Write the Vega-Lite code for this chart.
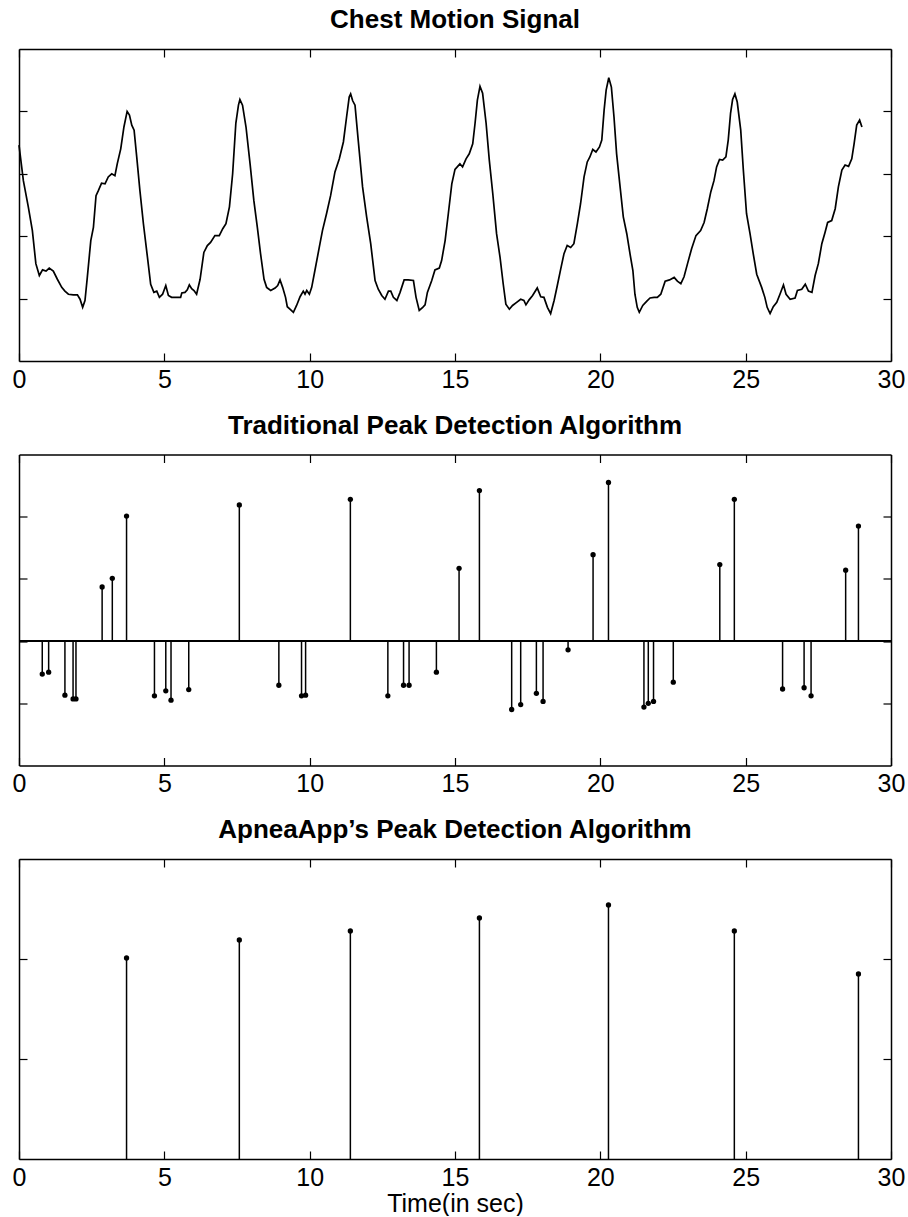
{
  "$schema": "https://vega.github.io/schema/vega-lite/v6.json",
  "padding": {"left": 12, "top": 7, "right": 0, "bottom": 0},
  "background": "white",
  "config": {
    "font": "Liberation Sans",
    "view": {"stroke": null},
    "axis": {"grid": false, "domain": true, "domainColor": "black", "domainWidth": 1.5, "tickColor": "black", "tickWidth": 1.2, "tickSize": -8, "labelFont": "Liberation Sans", "labelFontSize": 25, "labelColor": "black", "labelPadding": 14, "labelFlush": false, "titleFont": "Liberation Sans", "titleFontSize": 25, "titleFontWeight": "normal", "titleColor": "black"},
    "title": {"font": "Liberation Sans", "fontSize": 26, "fontWeight": "bold", "color": "black", "anchor": "middle", "offset": 15, "baseline": "alphabetic"}
  },
  "datasets": {
    "signal": [
      {"t":0,"v":1.46},{"t":0.15,"v":0.89},{"t":0.32,"v":0.47},{"t":0.46,"v":0.09},{"t":0.58,"v":-0.44},{"t":0.70,"v":-0.63},{"t":0.81,"v":-0.54},{"t":0.93,"v":-0.56},{"t":1.04,"v":-0.51},{"t":1.18,"v":-0.56},{"t":1.32,"v":-0.69},{"t":1.47,"v":-0.82},{"t":1.58,"v":-0.88},{"t":1.70,"v":-0.93},{"t":1.87,"v":-0.94},{"t":2.01,"v":-0.94},{"t":2.10,"v":-1.01},{"t":2.19,"v":-1.14},{"t":2.27,"v":-1.03},{"t":2.35,"v":-0.66},{"t":2.47,"v":-0.07},{"t":2.56,"v":0.14},{"t":2.65,"v":0.65},{"t":2.73,"v":0.73},{"t":2.84,"v":0.85},{"t":2.96,"v":0.84},{"t":3.07,"v":0.95},{"t":3.19,"v":1.00},{"t":3.30,"v":0.97},{"t":3.38,"v":1.16},{"t":3.50,"v":1.40},{"t":3.61,"v":1.75},{"t":3.72,"v":2.00},{"t":3.80,"v":1.94},{"t":3.88,"v":1.78},{"t":3.96,"v":1.70},{"t":4.05,"v":1.27},{"t":4.16,"v":0.73},{"t":4.28,"v":0.20},{"t":4.42,"v":-0.34},{"t":4.53,"v":-0.77},{"t":4.64,"v":-0.90},{"t":4.74,"v":-0.88},{"t":4.83,"v":-0.98},{"t":4.94,"v":-0.93},{"t":5.05,"v":-0.79},{"t":5.14,"v":-0.95},{"t":5.25,"v":-0.98},{"t":5.42,"v":-0.98},{"t":5.56,"v":-0.98},{"t":5.60,"v":-0.91},{"t":5.71,"v":-0.90},{"t":5.79,"v":-0.86},{"t":5.86,"v":-0.78},{"t":5.94,"v":-0.84},{"t":6.02,"v":-0.87},{"t":6.11,"v":-0.93},{"t":6.23,"v":-0.69},{"t":6.36,"v":-0.26},{"t":6.48,"v":-0.15},{"t":6.59,"v":-0.10},{"t":6.74,"v":0.01},{"t":6.89,"v":0.01},{"t":7.01,"v":0.12},{"t":7.12,"v":0.20},{"t":7.24,"v":0.47},{"t":7.35,"v":1.00},{"t":7.46,"v":1.81},{"t":7.55,"v":2.10},{"t":7.60,"v":2.19},{"t":7.69,"v":2.10},{"t":7.81,"v":1.75},{"t":7.95,"v":1.16},{"t":8.08,"v":0.57},{"t":8.20,"v":0.14},{"t":8.31,"v":-0.28},{"t":8.43,"v":-0.69},{"t":8.52,"v":-0.82},{"t":8.66,"v":-0.87},{"t":8.81,"v":-0.83},{"t":8.90,"v":-0.79},{"t":8.98,"v":-0.70},{"t":9.07,"v":-0.82},{"t":9.17,"v":-0.98},{"t":9.23,"v":-1.13},{"t":9.35,"v":-1.18},{"t":9.44,"v":-1.22},{"t":9.55,"v":-1.11},{"t":9.67,"v":-0.97},{"t":9.78,"v":-0.88},{"t":9.84,"v":-0.93},{"t":9.90,"v":-0.87},{"t":9.99,"v":-0.93},{"t":10.07,"v":-0.82},{"t":10.18,"v":-0.55},{"t":10.33,"v":-0.18},{"t":10.44,"v":0.09},{"t":10.58,"v":0.36},{"t":10.72,"v":0.65},{"t":10.87,"v":1.03},{"t":11.02,"v":1.24},{"t":11.16,"v":1.51},{"t":11.27,"v":1.91},{"t":11.36,"v":2.23},{"t":11.41,"v":2.28},{"t":11.48,"v":2.17},{"t":11.56,"v":2.10},{"t":11.67,"v":1.54},{"t":11.82,"v":0.79},{"t":11.96,"v":0.31},{"t":12.10,"v":-0.12},{"t":12.25,"v":-0.71},{"t":12.36,"v":-0.85},{"t":12.48,"v":-0.95},{"t":12.59,"v":-1.01},{"t":12.71,"v":-0.88},{"t":12.79,"v":-0.88},{"t":12.88,"v":-0.98},{"t":13.00,"v":-1.03},{"t":13.11,"v":-0.90},{"t":13.25,"v":-0.70},{"t":13.39,"v":-0.70},{"t":13.57,"v":-0.71},{"t":13.66,"v":-0.98},{"t":13.77,"v":-1.19},{"t":13.89,"v":-1.14},{"t":13.97,"v":-1.10},{"t":14.05,"v":-0.90},{"t":14.20,"v":-0.71},{"t":14.31,"v":-0.54},{"t":14.46,"v":-0.51},{"t":14.54,"v":-0.39},{"t":14.66,"v":-0.07},{"t":14.77,"v":0.36},{"t":14.89,"v":0.84},{"t":15.00,"v":1.07},{"t":15.17,"v":1.16},{"t":15.26,"v":1.11},{"t":15.38,"v":1.24},{"t":15.49,"v":1.32},{"t":15.61,"v":1.48},{"t":15.69,"v":1.81},{"t":15.77,"v":2.18},{"t":15.86,"v":2.40},{"t":15.95,"v":2.29},{"t":16.07,"v":1.81},{"t":16.18,"v":1.22},{"t":16.30,"v":0.68},{"t":16.43,"v":0.04},{"t":16.55,"v":-0.34},{"t":16.66,"v":-0.77},{"t":16.75,"v":-1.09},{"t":16.87,"v":-1.17},{"t":16.98,"v":-1.11},{"t":17.12,"v":-1.06},{"t":17.26,"v":-1.01},{"t":17.37,"v":-1.03},{"t":17.44,"v":-1.10},{"t":17.55,"v":-1.02},{"t":17.67,"v":-0.95},{"t":17.83,"v":-0.83},{"t":17.95,"v":-0.97},{"t":18.06,"v":-0.98},{"t":18.18,"v":-1.14},{"t":18.29,"v":-1.24},{"t":18.41,"v":-1.03},{"t":18.52,"v":-0.79},{"t":18.64,"v":-0.52},{"t":18.75,"v":-0.28},{"t":18.86,"v":-0.15},{"t":18.98,"v":-0.18},{"t":19.09,"v":-0.12},{"t":19.21,"v":0.20},{"t":19.32,"v":0.52},{"t":19.44,"v":0.95},{"t":19.55,"v":1.19},{"t":19.64,"v":1.27},{"t":19.74,"v":1.39},{"t":19.85,"v":1.35},{"t":19.97,"v":1.43},{"t":20.05,"v":1.54},{"t":20.13,"v":2.02},{"t":20.20,"v":2.34},{"t":20.29,"v":2.54},{"t":20.38,"v":2.39},{"t":20.47,"v":1.91},{"t":20.56,"v":1.32},{"t":20.68,"v":0.79},{"t":20.79,"v":0.31},{"t":20.91,"v":0.04},{"t":21.02,"v":-0.28},{"t":21.12,"v":-0.55},{"t":21.19,"v":-0.93},{"t":21.27,"v":-1.14},{"t":21.34,"v":-1.22},{"t":21.46,"v":-1.11},{"t":21.60,"v":-1.04},{"t":21.71,"v":-0.99},{"t":21.85,"v":-0.98},{"t":21.96,"v":-0.98},{"t":22.08,"v":-0.93},{"t":22.23,"v":-0.72},{"t":22.38,"v":-0.70},{"t":22.54,"v":-0.66},{"t":22.65,"v":-0.72},{"t":22.77,"v":-0.76},{"t":22.88,"v":-0.65},{"t":23.00,"v":-0.44},{"t":23.14,"v":-0.20},{"t":23.29,"v":0.01},{"t":23.45,"v":0.09},{"t":23.57,"v":0.22},{"t":23.68,"v":0.44},{"t":23.80,"v":0.71},{"t":23.91,"v":0.89},{"t":24.00,"v":1.11},{"t":24.10,"v":1.23},{"t":24.21,"v":1.22},{"t":24.32,"v":1.27},{"t":24.40,"v":1.54},{"t":24.48,"v":1.97},{"t":24.55,"v":2.19},{"t":24.63,"v":2.28},{"t":24.71,"v":2.15},{"t":24.83,"v":1.70},{"t":24.92,"v":1.06},{"t":25.03,"v":0.36},{"t":25.15,"v":0.04},{"t":25.26,"v":-0.28},{"t":25.38,"v":-0.61},{"t":25.55,"v":-0.82},{"t":25.66,"v":-0.98},{"t":25.74,"v":-1.14},{"t":25.84,"v":-1.24},{"t":25.95,"v":-1.13},{"t":26.07,"v":-1.06},{"t":26.18,"v":-0.93},{"t":26.30,"v":-0.78},{"t":26.39,"v":-0.93},{"t":26.53,"v":-1.01},{"t":26.70,"v":-0.99},{"t":26.78,"v":-0.87},{"t":26.93,"v":-0.85},{"t":27.05,"v":-0.77},{"t":27.16,"v":-0.88},{"t":27.28,"v":-0.90},{"t":27.39,"v":-0.63},{"t":27.50,"v":-0.44},{"t":27.62,"v":-0.12},{"t":27.73,"v":0.06},{"t":27.82,"v":0.22},{"t":27.96,"v":0.25},{"t":28.08,"v":0.44},{"t":28.19,"v":0.79},{"t":28.31,"v":1.06},{"t":28.42,"v":1.14},{"t":28.54,"v":1.12},{"t":28.65,"v":1.24},{"t":28.73,"v":1.48},{"t":28.82,"v":1.78},{"t":28.92,"v":1.86},{"t":29.00,"v":1.75}
    ],
    "trad": [
      {"t":0.80,"v":-0.53},{"t":1.02,"v":-0.50},{"t":1.58,"v":-0.87},{"t":1.86,"v":-0.93},{"t":1.96,"v":-0.93},{"t":2.86,"v":0.87},{"t":3.21,"v":1.01},{"t":3.70,"v":2.01},{"t":4.66,"v":-0.88},{"t":5.05,"v":-0.80},{"t":5.23,"v":-0.95},{"t":5.84,"v":-0.78},{"t":7.58,"v":2.19},{"t":8.94,"v":-0.71},{"t":9.72,"v":-0.88},{"t":9.86,"v":-0.87},{"t":11.40,"v":2.28},{"t":12.69,"v":-0.88},{"t":13.23,"v":-0.71},{"t":13.42,"v":-0.71},{"t":14.36,"v":-0.50},{"t":15.14,"v":1.17},{"t":15.84,"v":2.42},{"t":16.95,"v":-1.10},{"t":17.26,"v":-1.02},{"t":17.80,"v":-0.84},{"t":18.03,"v":-0.97},{"t":18.89,"v":-0.14},{"t":19.75,"v":1.39},{"t":20.28,"v":2.55},{"t":21.50,"v":-1.06},{"t":21.65,"v":-1.00},{"t":21.83,"v":-0.97},{"t":22.51,"v":-0.66},{"t":24.11,"v":1.23},{"t":24.61,"v":2.28},{"t":26.27,"v":-0.77},{"t":27.01,"v":-0.75},{"t":27.25,"v":-0.88},{"t":28.44,"v":1.14},{"t":28.88,"v":1.85}
    ],
    "apnea": [
      {"t":3.70,"v":2.01},{"t":7.58,"v":2.19},{"t":11.40,"v":2.28},{"t":15.84,"v":2.41},{"t":20.28,"v":2.54},{"t":24.61,"v":2.28},{"t":28.88,"v":1.85}
    ]
  },
  "bounds": "flush",
  "spacing": 93.5,
  "vconcat": [
    {
      "width": 872, "height": 312,
      "title": {"text": "Chest Motion Signal"},
      "data": {"name": "signal"},
      "layer": [
        {
          "mark": {"type": "line", "color": "black", "strokeWidth": 1.7},
          "encoding": {
            "x": {"field": "t", "type": "quantitative", "scale": {"domain": [0, 30], "nice": false}, "axis": {"orient": "bottom", "values": [0, 5, 10, 15, 20, 25, 30], "title": null}},
            "y": {"field": "v", "type": "quantitative", "scale": {"domain": [-2, 3], "nice": false, "zero": false}, "axis": {"orient": "left", "values": [-1, 0, 1, 2], "labels": false, "title": null}}
          }
        },
        {
          "mark": {"type": "line", "opacity": 0},
          "encoding": {
            "x": {"field": "t", "type": "quantitative", "axis": {"orient": "top", "values": [0, 5, 10, 15, 20, 25, 30], "labels": false, "title": null}},
            "y": {"field": "v", "type": "quantitative", "axis": {"orient": "right", "values": [-1, 0, 1, 2], "labels": false, "title": null}}
          }
        }
      ],
      "resolve": {"axis": {"x": "independent", "y": "independent"}}
    },
    {
      "width": 872, "height": 311,
      "title": {"text": "Traditional Peak Detection Algorithm"},
      "data": {"name": "trad"},
      "layer": [
        {
          "mark": {"type": "rule", "color": "black", "strokeWidth": 1.5},
          "encoding": {
            "x": {"field": "t", "type": "quantitative", "scale": {"domain": [0, 30], "nice": false}, "axis": {"orient": "bottom", "values": [0, 5, 10, 15, 20, 25, 30], "title": null}},
            "y": {"field": "v", "type": "quantitative", "scale": {"domain": [-2, 3], "nice": false, "zero": false}, "axis": {"orient": "left", "values": [-1, 0, 1, 2], "labels": false, "title": null}},
            "y2": {"datum": 0}
          }
        },
        {
          "mark": {"type": "rule", "color": "black", "strokeWidth": 1.5},
          "encoding": {
            "y": {"datum": 0, "type": "quantitative", "axis": null}
          }
        },
        {
          "mark": {"type": "point", "filled": true, "color": "black", "opacity": 1, "size": 28},
          "encoding": {
            "x": {"field": "t", "type": "quantitative", "axis": null},
            "y": {"field": "v", "type": "quantitative", "axis": null}
          }
        },
        {
          "mark": {"type": "point", "opacity": 0},
          "encoding": {
            "x": {"field": "t", "type": "quantitative", "axis": {"orient": "top", "values": [0, 5, 10, 15, 20, 25, 30], "labels": false, "title": null}},
            "y": {"field": "v", "type": "quantitative", "axis": {"orient": "right", "values": [-1, 0, 1, 2], "labels": false, "title": null}}
          }
        }
      ],
      "resolve": {"axis": {"x": "independent", "y": "independent"}}
    },
    {
      "width": 872, "height": 300,
      "title": {"text": "ApneaApp’s Peak Detection Algorithm"},
      "data": {"name": "apnea"},
      "layer": [
        {
          "mark": {"type": "rule", "color": "black", "strokeWidth": 1.5},
          "encoding": {
            "x": {"field": "t", "type": "quantitative", "scale": {"domain": [0, 30], "nice": false}, "axis": {"orient": "bottom", "values": [0, 5, 10, 15, 20, 25, 30], "title": "Time(in sec)", "titlePadding": 1}},
            "y": {"field": "v", "type": "quantitative", "scale": {"domain": [0, 3], "nice": false}, "axis": {"orient": "left", "values": [1, 2], "labels": false, "title": null}},
            "y2": {"datum": 0}
          }
        },
        {
          "mark": {"type": "point", "filled": true, "color": "black", "opacity": 1, "size": 28},
          "encoding": {
            "x": {"field": "t", "type": "quantitative", "axis": null},
            "y": {"field": "v", "type": "quantitative", "axis": null}
          }
        },
        {
          "mark": {"type": "point", "opacity": 0},
          "encoding": {
            "x": {"field": "t", "type": "quantitative", "axis": {"orient": "top", "values": [0, 5, 10, 15, 20, 25, 30], "labels": false, "title": null}},
            "y": {"field": "v", "type": "quantitative", "axis": {"orient": "right", "values": [1, 2], "labels": false, "title": null}}
          }
        }
      ],
      "resolve": {"axis": {"x": "independent", "y": "independent"}}
    }
  ]
}
